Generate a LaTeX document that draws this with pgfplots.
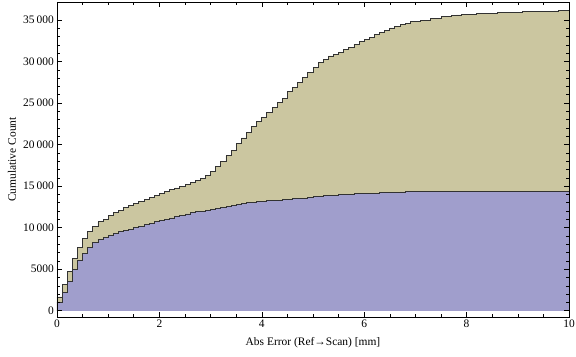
\documentclass[border=0pt]{standalone}
\usepackage{fontspec}
\setmainfont{Liberation Serif}
\usepackage{pgfplots}
\pgfplotsset{compat=1.18}
\usepackage{pgfplotstable}
\definecolor{tanfill}{RGB}{203,198,160}
\definecolor{bluefill}{RGB}{160,158,204}
\definecolor{edge}{RGB}{50,50,50}

\pgfplotstableread{
x y
0.0 1660
0.1 3160
0.2 4680
0.3 6290
0.4 7610
0.5 8700
0.6 9500
0.7 10100
0.8 10700
0.9 11030
1.0 11420
1.1 11830
1.2 12110
1.3 12390
1.4 12630
1.5 12920
1.6 13190
1.7 13430
1.8 13650
1.9 13880
2.0 14080
2.1 14320
2.2 14560
2.3 14780
2.4 14960
2.5 15160
2.6 15420
2.7 15660
2.8 15950
2.9 16300
3.0 16800
3.1 17350
3.2 17950
3.3 18650
3.4 19350
3.5 20100
3.6 20800
3.7 21500
3.8 22200
3.9 22830
4.0 23280
4.1 23920
4.2 24480
4.3 25090
4.4 25570
4.5 26370
4.6 26890
4.7 27500
4.8 28100
4.9 28700
5.0 29300
5.1 29910
5.2 30270
5.3 30670
5.4 30870
5.5 31110
5.6 31470
5.7 31710
5.8 32070
5.9 32390
6.0 32680
6.1 32920
6.2 33280
6.3 33520
6.4 33780
6.5 34040
6.6 34280
6.7 34460
6.8 34640
6.9 34800
7.0 34880
7.1 34920
7.2 35000
7.3 35130
7.4 35240
7.5 35370
7.6 35450
7.7 35540
7.8 35610
7.9 35670
8.0 35690
8.1 35720
8.2 35750
8.3 35790
8.4 35810
8.5 35830
8.6 35860
8.7 35880
8.8 35890
8.9 35910
9.0 35950
9.1 35980
9.2 36000
9.3 36010
9.4 36030
9.5 36060
9.6 36080
9.7 36090
9.8 36100
9.9 36120
10.0 36120
}\tandata

\pgfplotstableread{
x y
0.0 1060
0.1 2150
0.2 3470
0.3 4960
0.4 6090
0.5 6890
0.6 7610
0.7 8220
0.8 8580
0.9 8780
1.0 9010
1.1 9300
1.2 9500
1.3 9700
1.4 9820
1.5 10020
1.6 10180
1.7 10340
1.8 10540
1.9 10720
2.0 10860
2.1 11020
2.2 11170
2.3 11340
2.4 11500
2.5 11650
2.6 11790
2.7 11930
2.8 11990
2.9 12030
3.0 12150
3.1 12270
3.2 12430
3.3 12550
3.4 12680
3.5 12800
3.6 12920
3.7 13000
3.8 13040
3.9 13110
4.0 13180
4.1 13230
4.2 13290
4.3 13320
4.4 13400
4.5 13440
4.6 13500
4.7 13540
4.8 13560
4.9 13650
5.0 13710
5.1 13780
5.2 13830
5.3 13860
5.4 13900
5.5 13960
5.6 14000
5.7 14040
5.8 14080
5.9 14110
6.0 14120
6.1 14140
6.2 14160
6.3 14200
6.4 14230
6.5 14250
6.6 14270
6.7 14300
6.8 14310
6.9 14320
7.0 14322
7.1 14324
7.2 14326
7.3 14328
7.4 14330
7.5 14331
7.6 14332
7.7 14333
7.8 14334
7.9 14335
8.0 14336
8.1 14337
8.2 14338
8.3 14339
8.4 14340
8.5 14341
8.6 14342
8.7 14343
8.8 14344
8.9 14345
9.0 14346
9.1 14347
9.2 14348
9.3 14349
9.4 14350
9.5 14351
9.6 14352
9.7 14353
9.8 14354
9.9 14355
10.0 14355
}\bluedata

\begin{document}
\fontsize{11.5}{13.8}\selectfont
\begin{tikzpicture}
\begin{axis}[
  scale only axis,
  width=512bp, height=315bp,
  xmin=0, xmax=10,
  ymin=-750, ymax=37170,
  scaled y ticks=false,
  scaled x ticks=false,
  axis line style={black, line width=0.8bp},
  tick align=inside,
  tick style={black, line width=0.6bp},
  major tick length=5bp,
  minor tick length=3bp,
  xtick={0,2,4,6,8,10},
  xticklabels={0,2,4,6,8,10},
  minor x tick num=3,
  ytick={0,5000,10000,15000,20000,25000,30000,35000},
  yticklabels={0,5000,10\,000,15\,000,20\,000,25\,000,30\,000,35\,000},
  minor y tick num=4,
  xticklabel style={font=\fontsize{11.5}{13.8}\selectfont, inner sep=1bp, yshift=-2bp},
  yticklabel style={font=\fontsize{11.5}{13.8}\selectfont, inner sep=1bp, xshift=-2bp},
  xlabel={Abs Error (Ref→Scan) [mm]},
  ylabel={Cumulative Count},
  every axis x label/.style={at={(rel axis cs:0.5,0)}, yshift=-26bp, anchor=center, font=\fontsize{11.5}{13.8}\selectfont},
  every axis y label/.style={at={(rel axis cs:0,0.5)}, xshift=-45bp, rotate=90, anchor=center, font=\fontsize{11.5}{13.8}\selectfont},
  axis on top,
  clip=true,
]
\addplot[const plot, fill=tanfill, draw=none] table[x=x,y=y] {\tandata} \closedcycle;
\addplot[const plot, draw=edge, line width=0.9bp] table[x=x,y=y] {\tandata};
\addplot[const plot, fill=bluefill, draw=none] table[x=x,y=y] {\bluedata} \closedcycle;
\addplot[const plot, draw=edge, line width=0.9bp] table[x=x,y=y] {\bluedata};
\end{axis}
\path (current axis.south west) ++(-57bp,-40bp) coordinate (bbsw);
\path (current axis.north east) ++(7bp,2bp) coordinate (bbne);
\path (bbsw) rectangle (bbne);
\end{tikzpicture}
\end{document}
